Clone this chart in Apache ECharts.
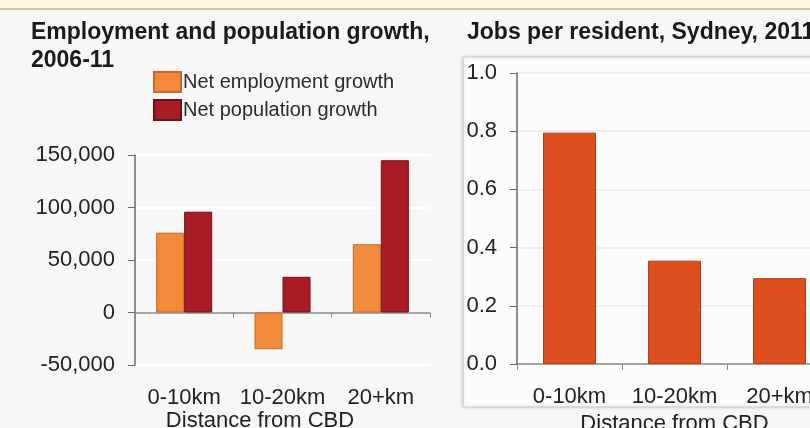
<!DOCTYPE html>
<html>
<head>
<meta charset="utf-8">
<script src="https://cdn.jsdelivr.net/npm/echarts@6/dist/echarts.min.js"></script>
<style>
  html, body { margin: 0; padding: 0; background: #f7f7f7; }
  #chart { width: 810px; height: 428px; }
</style>
</head>
<body>
<div id="chart"></div>
<script>
// Distance bands from the Sydney CBD
const categories = ['0-10km', '10-20km', '20+km'];

// Employment and population growth, 2006-11
const employmentGrowth = [76000, -35000, 65000];
const populationGrowth = [96000, 34000, 145000];

// Jobs per resident, Sydney, 2011
const jobsPerResident = [0.795, 0.355, 0.295];

// Value-axis tick settings
const growthTicks = { min: -50000, max: 150000, interval: 50000 };
const ratioTicks = { min: 0, max: 1, interval: 0.2 };

const FONT = '"Liberation Sans", Arial, sans-serif';
const labelStyle = { fontFamily: FONT, fontSize: 22, color: '#222' };

const chart = echarts.init(document.getElementById('chart'), null, { renderer: 'canvas' });

const option = {
  backgroundColor: '#f7f7f7',
  animation: false,
  graphic: [
    // pale header strip
    { type: 'rect', shape: { x: 0, y: 0, width: 810, height: 8 }, style: { fill: '#fbf8dc' }, z: -10 },
    { type: 'rect', shape: { x: 0, y: 8, width: 810, height: 2 }, style: { fill: '#cfc795' }, z: -10 },
    // framed panel behind the right-hand chart
    {
      type: 'rect',
      shape: { x: 463, y: 57, width: 400, height: 350, r: 2 },
      style: { fill: '#fcfcfc', stroke: '#d4d4d4', lineWidth: 1.5, shadowBlur: 4, shadowColor: 'rgba(0,0,0,0.12)' },
      z: -5
    }
  ],
  title: [
    {
      text: 'Employment and population growth,\n2006-11',
      left: 26, top: 14,
      textStyle: { fontFamily: FONT, fontSize: 23, fontWeight: 'bold', color: '#1a1a1a', lineHeight: 28 }
    },
    {
      text: 'Jobs per resident, Sydney, 2011',
      left: 462, top: 14,
      textStyle: { fontFamily: FONT, fontSize: 23, fontWeight: 'bold', color: '#1a1a1a', lineHeight: 28 }
    }
  ],
  legend: {
    orient: 'vertical',
    left: 148, top: 66,
    itemWidth: 27, itemHeight: 20, itemGap: 6,
    icon: 'rect',
    data: ['Net employment growth', 'Net population growth'],
    textStyle: { fontFamily: FONT, fontSize: 20, color: '#2a2a2a', padding: [0, 0, 0, -3] }
  },
  grid: [
    { left: 135, top: 155, width: 295, height: 210, outerBoundsMode: 'none' },
    { left: 517, top: 73, width: 315, height: 291, outerBoundsMode: 'none' }
  ],
  xAxis: [
    // category labels along the bottom of the left chart
    {
      type: 'category', gridIndex: 0, data: categories, position: 'bottom',
      axisLine: { show: false, onZero: false },
      axisTick: { show: false },
      axisLabel: Object.assign({ margin: 22, interval: 0 }, labelStyle),
      name: 'Distance from CBD', nameLocation: 'middle', nameGap: 44,
      nameTextStyle: Object.assign({ padding: [0, 45, 0, 0] }, labelStyle)
    },
    // zero line with category dividers for the left chart
    {
      type: 'category', gridIndex: 0, data: categories, position: 'top',
      axisLine: { show: true, onZero: true, lineStyle: { color: '#8a8a8a', width: 1.5 } },
      axisTick: { show: true, inside: true, length: 5, lineStyle: { color: '#8a8a8a' } },
      axisLabel: { show: false }
    },
    // right chart category axis
    {
      type: 'category', gridIndex: 1, data: categories,
      axisLine: { show: true, lineStyle: { color: '#8a8a8a', width: 1.5 } },
      axisTick: { show: true, length: 6, lineStyle: { color: '#8a8a8a' } },
      axisLabel: Object.assign({ margin: 22, interval: 0 }, labelStyle),
      name: 'Distance from CBD', nameLocation: 'middle', nameGap: 44,
      nameTextStyle: labelStyle
    }
  ],
  yAxis: [
    {
      type: 'value', gridIndex: 0,
      min: growthTicks.min, max: growthTicks.max, interval: growthTicks.interval,
      axisLine: { show: true, lineStyle: { color: '#6a6a6a', width: 1.5 } },
      axisTick: { show: true, length: 7, lineStyle: { color: '#6a6a6a' } },
      axisLabel: Object.assign({ margin: 20, formatter: v => v.toLocaleString('en-US') }, labelStyle),
      splitLine: { show: true, lineStyle: { color: '#ffffff', width: 2 } }
    },
    {
      type: 'value', gridIndex: 1,
      min: ratioTicks.min, max: ratioTicks.max, interval: ratioTicks.interval,
      axisLine: { show: true, lineStyle: { color: '#6a6a6a', width: 1.5 } },
      axisTick: { show: true, length: 7, lineStyle: { color: '#6a6a6a' } },
      axisLabel: Object.assign({ margin: 20, formatter: v => v.toFixed(1) }, labelStyle),
      splitLine: { show: true, lineStyle: { color: '#ebebeb', width: 1.5 } }
    }
  ],
  series: [
    {
      name: 'Net employment growth', type: 'bar', xAxisIndex: 0, yAxisIndex: 0,
      data: employmentGrowth, barWidth: 28, barGap: '0%',
      itemStyle: { color: '#f28a3c', borderColor: '#c9682a', borderWidth: 1 }
    },
    {
      name: 'Net population growth', type: 'bar', xAxisIndex: 0, yAxisIndex: 0,
      data: populationGrowth, barWidth: 28, barGap: '0%',
      itemStyle: { color: '#a81c26', borderColor: '#6e1014', borderWidth: 1 }
    },
    {
      name: 'Jobs per resident', type: 'bar', xAxisIndex: 2, yAxisIndex: 1,
      data: jobsPerResident, barWidth: 53,
      itemStyle: { color: '#de4f1f', borderColor: '#b63e16', borderWidth: 1 }
    }
  ]
};

chart.setOption(option);
</script>
</body>
</html>
